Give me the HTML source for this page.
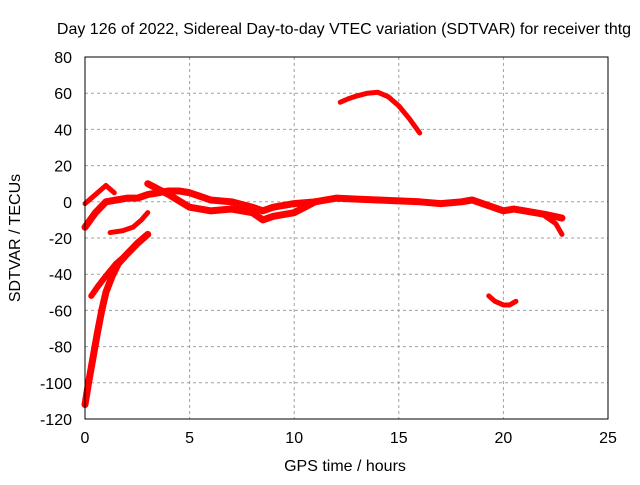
<!DOCTYPE html>
<html><head><meta charset="utf-8"><style>
body{margin:0;background:#fff;}
svg text{font-family:"Liberation Sans",sans-serif;font-size:16px;fill:#000;}
</style></head><body>
<svg id="chart" width="640" height="480">
<text x="344" y="34" text-anchor="middle">Day 126 of 2022, Sidereal Day-to-day VTEC variation (SDTVAR) for receiver thtg</text>
<text x="345" y="471" text-anchor="middle">GPS time / hours</text>
<text transform="translate(20,238) rotate(-90)" text-anchor="middle">SDTVAR / TECUs</text>
<g id="grid"></g><g id="ticks"></g><g id="series"></g>
<rect x="85" y="57" width="523" height="362" fill="none" stroke="#000" stroke-width="1"/>
</svg>
<script>
const xTicks=[0,5,10,15,20,25];
const yTicks=[80,60,40,20,0,-20,-40,-60,-80,-100,-120];
const trackRise=[[0,-112],[0.1,-105],[0.2,-98],[0.4,-85],[0.6,-72],[0.8,-60],[1,-50],[1.3,-41],[1.6,-34],[2,-29],[2.5,-23],[3,-18]];
const trackRise2=[[0.3,-52],[0.6,-47],[1,-41],[1.5,-34],[2,-29]];
const trackTop=[[0,-1],[0.5,4],[1,9],[1.4,5]];
const trackMain=[[0,-14],[0.5,-6],[1,0],[1.5,1],[2,2],[2.5,2],[3,4],[3.5,5],[4,6],[4.5,6],[5,5],[5.5,3],[6,1],[7,0],[8,-3],[8.5,-5],[9,-3],[10,-1],[11,0],[12,2],[13,1.5],[14,1],[15,0.5],[16,0],[17,-1],[18,0],[18.5,1],[19,-1],[19.5,-3],[20,-5],[20.5,-4],[21,-5],[22,-7],[22.8,-9]];
const trackLow=[[1.2,-17],[1.8,-16],[2.3,-14],[2.7,-10],[3,-6]];
const trackDip=[[3,10],[4,4],[5,-3],[6,-5],[7,-4],[8,-6],[8.5,-10],[9,-8],[10,-6],[10.5,-3],[11,0]];
const trackEnd=[[22,-8],[22.5,-12],[22.8,-18]];
const trackArc=[[12.2,55],[12.6,57],[13,58.5],[13.5,60],[14,60.5],[14.5,58],[15,53],[15.5,46],[16,38]];
const trackSmall=[[19.3,-52],[19.6,-55],[20,-57],[20.3,-57],[20.6,-55]];
const NS="http://www.w3.org/2000/svg";
const X=v=>85+v*523/25, Y=v=>57+(80-v)*362/200;
const grid=document.getElementById('grid'),ticks=document.getElementById('ticks'),ser=document.getElementById('series');
function mk(t,a,p){const e=document.createElementNS(NS,t);for(const k in a)e.setAttribute(k,a[k]);p.appendChild(e);return e;}
xTicks.forEach(t=>{
 if(t>0&&t<25){const g=mk('line',{x1:X(t),x2:X(t),y1:57,y2:419,stroke:'#a0a0a0','stroke-dasharray':'3,3'},grid);
 
 }
 const l=mk('text',{x:X(t),y:443,'text-anchor':'middle'},ticks);l.textContent=t;
 
 
});
yTicks.forEach(t=>{
 if(t<80&&t>-120){const g=mk('line',{x1:85,x2:608,y1:Y(t),y2:Y(t),stroke:'#a0a0a0','stroke-dasharray':'3,3'},grid);
 
 }
 const l=mk('text',{x:72,y:Y(t)+6,'text-anchor':'end'},ticks);l.textContent=t;
 
 
});
function draw(d,name,w){
 const p=mk('polyline',{points:d.map(q=>X(q[0])+','+Y(q[1])).join(' '),fill:'none',stroke:'#f00','stroke-width':w,'stroke-linejoin':'round','stroke-linecap':'round'},ser);
 
 
}
draw(trackRise,'series-rise',7);
draw(trackRise2,'series-rise-branch',6);
draw(trackTop,'series-top',5);
draw(trackMain,'series-main',7);
draw(trackLow,'series-low',5);
draw(trackDip,'series-dip',7);
draw(trackEnd,'series-end',5);
draw(trackArc,'series-arc',5);
draw(trackSmall,'series-small',5);
</script>
</body></html>
